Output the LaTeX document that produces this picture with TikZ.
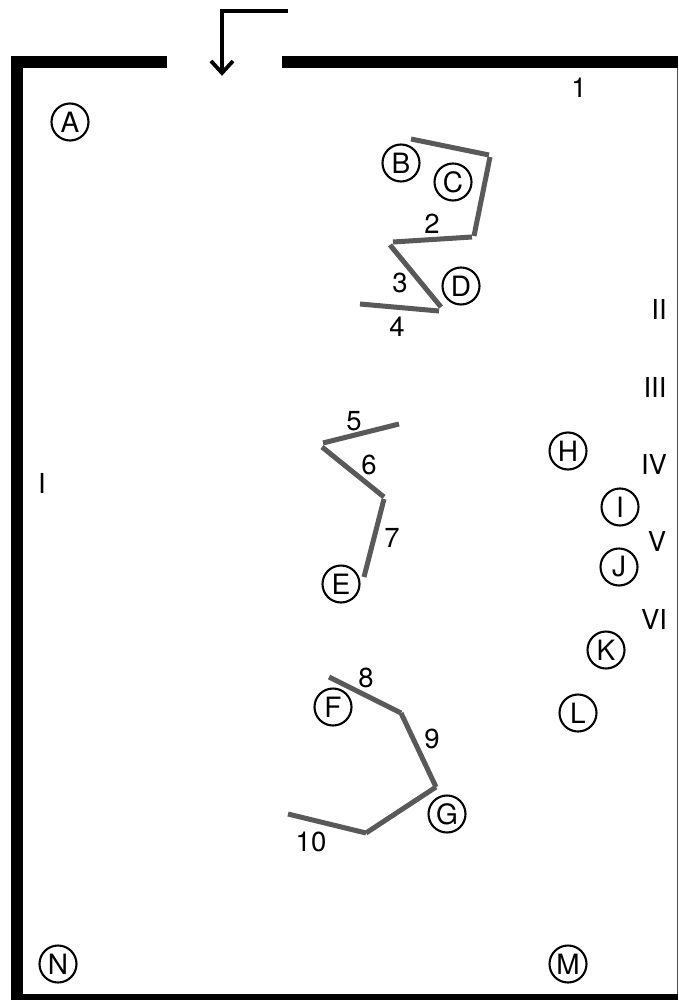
\documentclass[tikz,border=0pt]{standalone}
\usepackage{fontspec}
\setmainfont{TeX Gyre Heros}
\tikzset{
  wall/.style={fill=black,draw=none},
  seg/.style={draw=black!65,line width=5pt},
  tag/.style={circle,draw=black,line width=2.1pt,minimum size=37pt,inner sep=0pt,font=\fontsize{28}{28}\selectfont},
  lab/.style={inner sep=0pt,font=\fontsize{27.5}{28}\selectfont,text=black},
  arr/.style={line width=3.8pt,draw=black,line join=miter}
}
\begin{document}
\begin{tikzpicture}[x=1pt,y=-1pt]
\useasboundingbox (0,0) rectangle (678,1000);
\fill[white] (0,0) rectangle (678,1000);
% walls
\fill[wall] (11,56) rectangle (167,68);
\fill[wall] (282,56) rectangle (678,68);
\fill[wall] (11,56) rectangle (23,1000);
\fill[wall] (11,994) rectangle (678,1000);
\draw[draw=black!70,line width=1pt] (677.5,68) -- (677.5,994);
% entry arrow
\coordinate (a0) at (288,11);
\coordinate (a1) at (222,11);
\coordinate (a2) at (222,73);
\coordinate (a3) at (211,61);
\coordinate (a4) at (233,61);
\draw[arr] (a0) -- (a1) -- (a2);
\draw[arr] (a3) -- (a2) -- (a4);
% segments
\draw[seg] (411,139) -- (489,155);
\draw[seg] (490,157) -- (474,236);
\draw[seg] (472,237) -- (393,242);
\draw[seg] (390,245) -- (441,307);
\draw[seg] (439,311) -- (360,304);
\draw[seg] (399,424) -- (323,443);
\draw[seg] (322,447) -- (384,497);
\draw[seg] (384,499) -- (364,577);
\draw[seg] (329,677) -- (401,713);
\draw[seg] (401,713) -- (436,787);
\draw[seg] (436,787) -- (366,833);
\draw[seg] (366,833) -- (288,814);
% circled letters
\node[tag] (A) at (70,122) {A};
\node[tag] (B) at (401,163) {B};
\node[tag] (C) at (453,182) {C};
\node[tag] (D) at (461,286) {D};
\node[tag] (E) at (341,584) {E};
\node[tag] (F) at (333,707) {F};
\node[tag] (G) at (447,814) {G};
\node[tag] (H) at (568,451) {H};
\node[tag] (I) at (620,507) {I};
\node[tag] (J) at (619,567) {J};
\node[tag] (K) at (606,650) {K};
\node[tag] (L) at (578,713) {L};
\node[tag] (M) at (568,964) {M};
\node[tag] (N) at (58,964) {N};
% numbers
\node[lab] (n1) at (579,88) {1};
\node[lab] (n2) at (432,224) {2};
\node[lab] (n3) at (400,283) {3};
\node[lab] (n4) at (397,327) {4};
\node[lab] (n5) at (354,421) {5};
\node[lab] (n6) at (369,465) {6};
\node[lab] (n7) at (392,538) {7};
\node[lab] (n8) at (366,678) {8};
\node[lab] (n9) at (432,739) {9};
\node[lab] (n10) at (311,842) {10};
% roman
\node[lab] (rI) at (42,483) {I};
\node[lab] (rII) at (659,309) {II};
\node[lab] (rIII) at (655,387) {III};
\node[lab] (rIV) at (654,464) {IV};
\node[lab] (rV) at (657,541) {V};
\node[lab] (rVI) at (654,619) {VI};
\end{tikzpicture}
\end{document}
